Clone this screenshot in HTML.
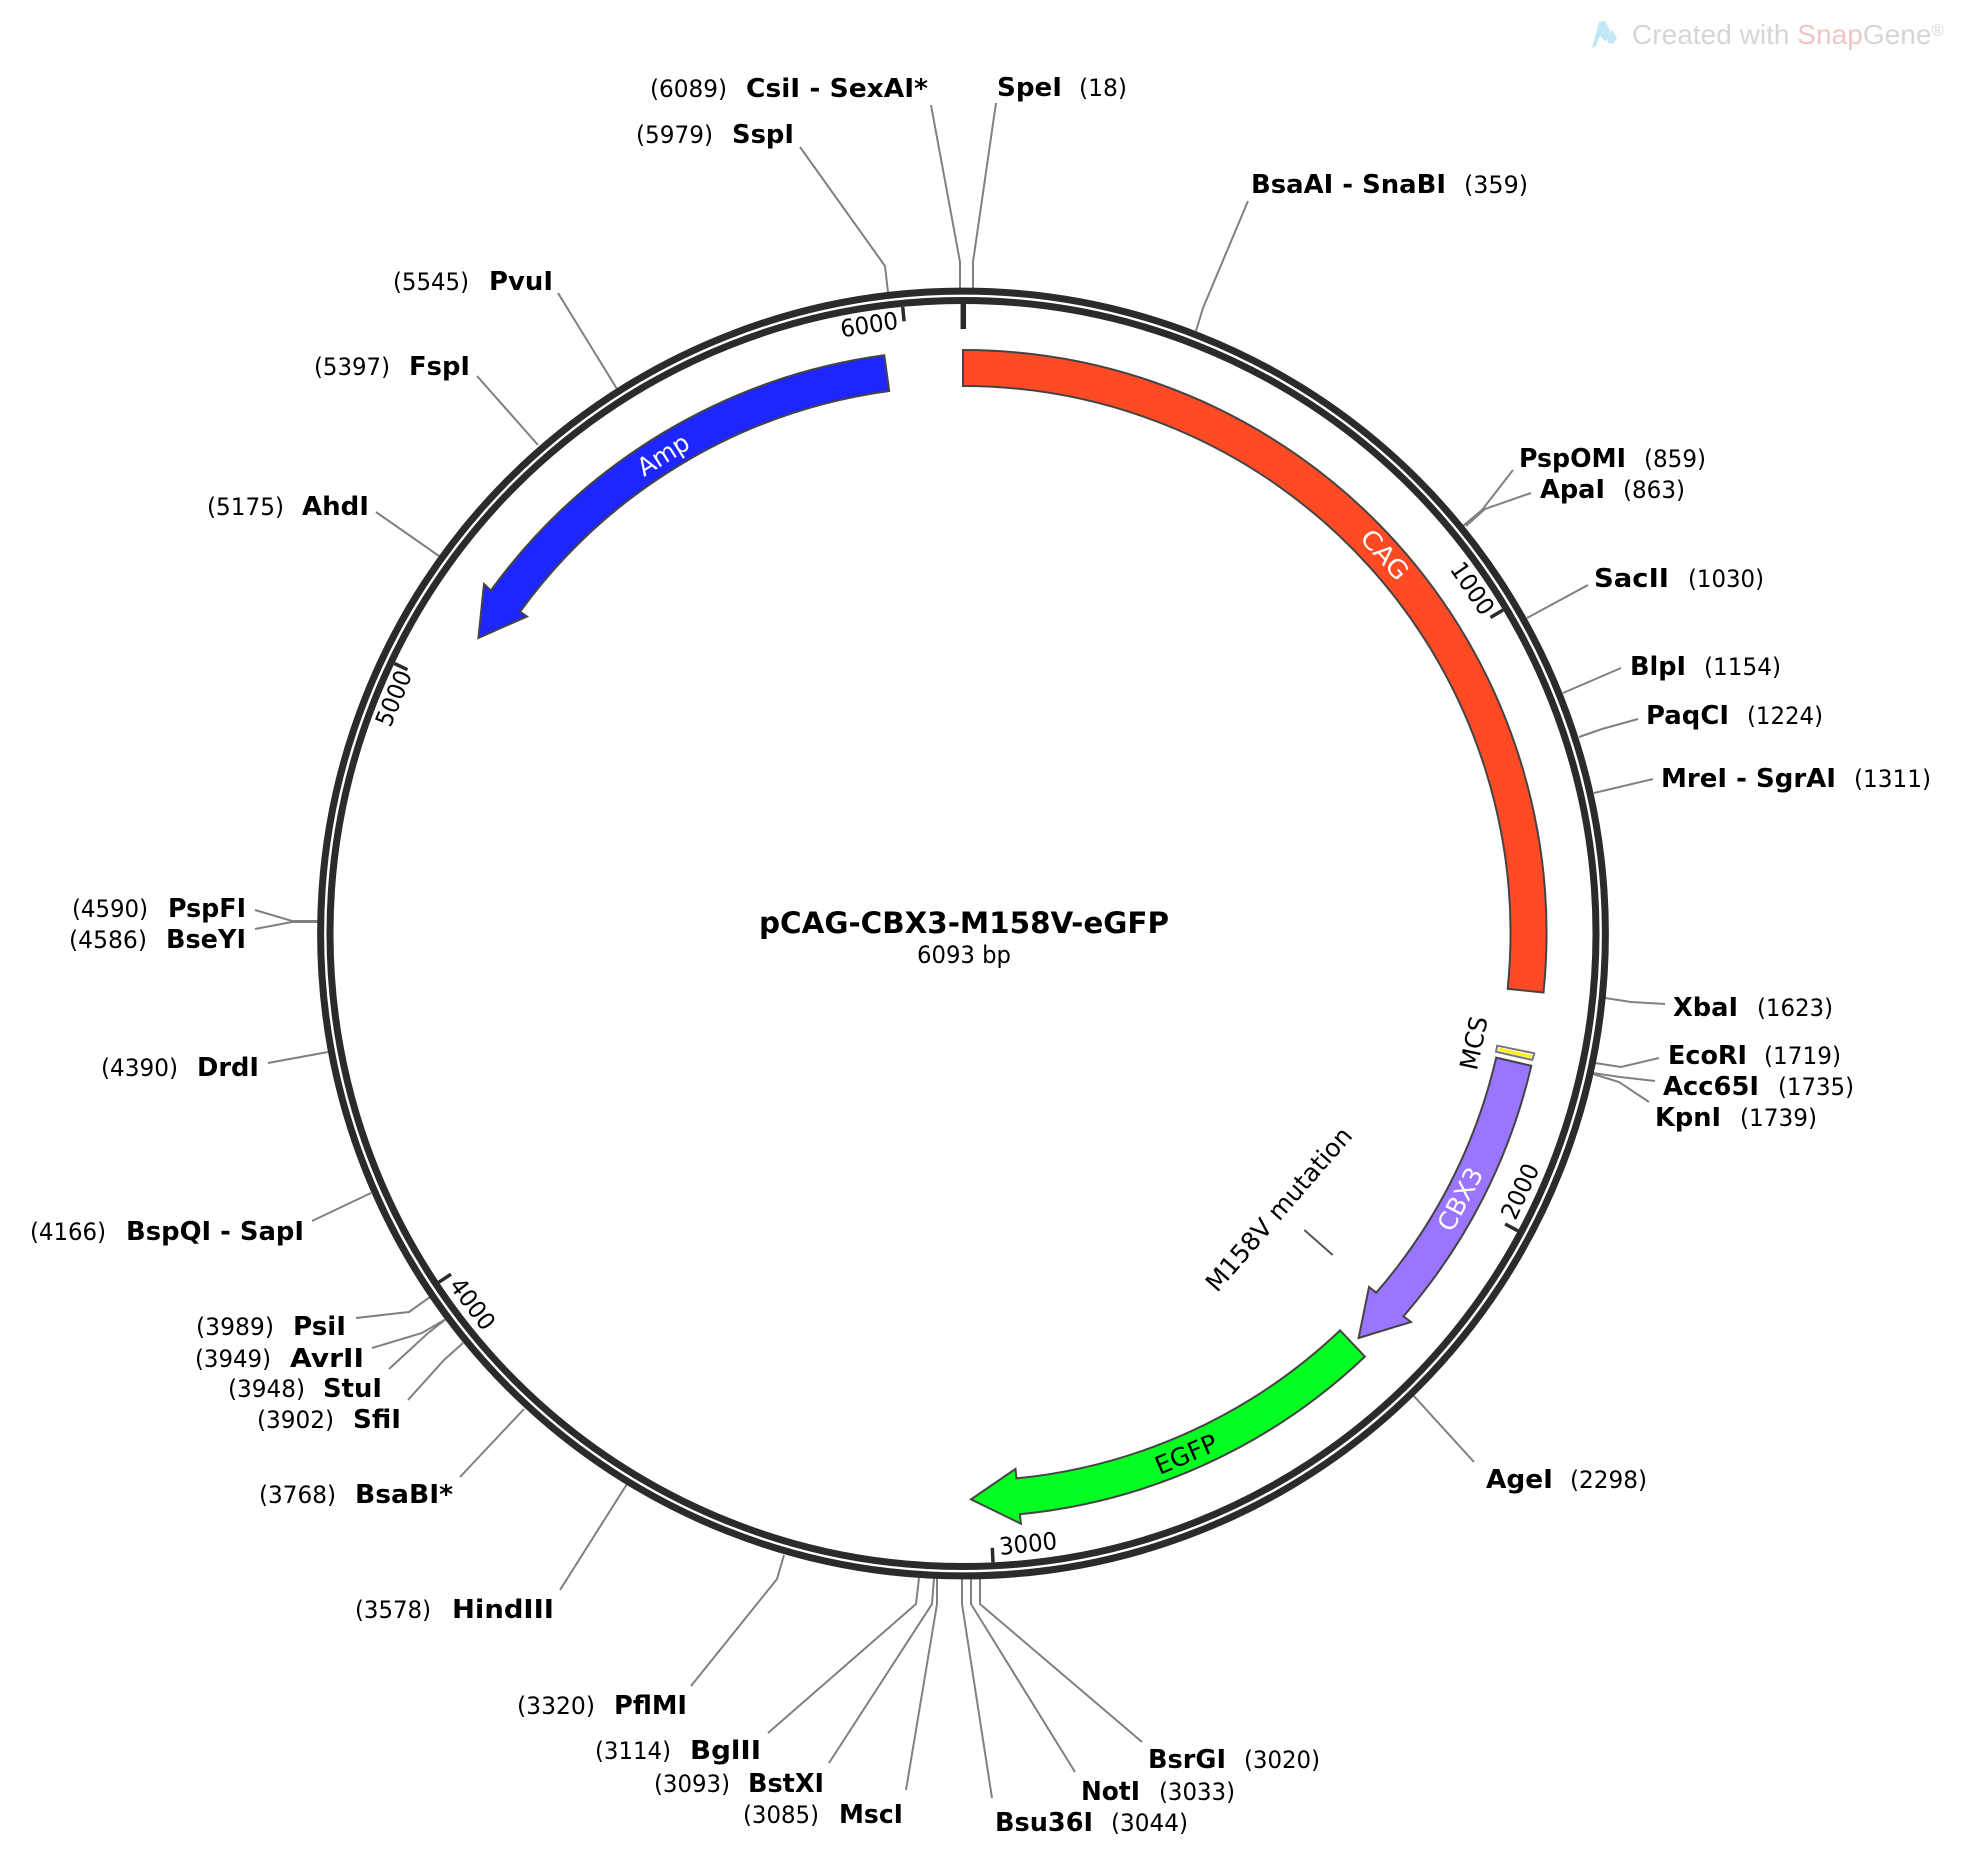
<!DOCTYPE html>
<html>
<head>
<meta charset="utf-8">
<style>
html,body{margin:0;padding:0;background:#fff;width:1964px;height:1860px;overflow:hidden}
svg{display:block}
text{font-family:"DejaVu Sans","Liberation Sans",sans-serif;font-size:24px;fill:#000}
.b{font-weight:bold;font-size:25.5px}
.l{fill:none;stroke:#808080;stroke-width:2}
.f{stroke:#444;stroke-width:2}
</style>
</head>
<body>
<svg width="1964" height="1860" viewBox="0 0 1964 1860" xmlns="http://www.w3.org/2000/svg">
<rect width="1964" height="1860" fill="#fff"/>

<!-- watermark -->
<path d="M1592 48 L1599 22 L1605 21 L1610 30 L1606 42 L1600 36 L1596 46 Z" fill="#c2e8f6"/>
<path d="M1607 36 L1612 30 L1617 38 L1613 44 L1608 43 Z" fill="#c2e8f6"/>
<text x="1632" y="44" style="font-family:'Liberation Sans',sans-serif;font-size:28px" textLength="312" lengthAdjust="spacingAndGlyphs"><tspan style="fill:#d6d6d6;font-size:28px">Created with </tspan><tspan style="fill:#efc6c6;font-size:28px">Snap</tspan><tspan style="fill:#d6d6d6;font-size:28px">Gene</tspan><tspan dy="-8" style="fill:#d6d6d6;font-size:17px">®</tspan></text>

<!-- connector lines -->
<g class="l">
<polyline class="l" points="931,105 960,262 960,290"/>
<polyline class="l" points="996,103 973,262 973,290"/>
<polyline class="l" points="800,147 885,266 888,292"/>
<polyline class="l" points="1248,201 1203,308 1196,331"/>
<polyline class="l" points="1513,470 1482,510 1463,526"/>
<polyline class="l" points="1531,493 1485,509 1466,526"/>
<polyline class="l" points="1588,585 1527,618"/>
<polyline class="l" points="1621,668 1563,693"/>
<polyline class="l" points="1638,719 1602,729 1579,737"/>
<polyline class="l" points="1653,779 1594,793"/>
<polyline class="l" points="1665,1004 1631,1002 1605,998"/>
<polyline class="l" points="1659,1058 1621,1067 1595,1063"/>
<polyline class="l" points="1655,1081 1620,1077 1593,1073"/>
<polyline class="l" points="1649,1102 1619,1082 1593,1074"/>
<polyline class="l" points="1474,1462 1412,1394"/>
<polyline class="l" points="1142,1742 980,1604 980,1579"/>
<polyline class="l" points="1075,1772 971,1604 971,1579"/>
<polyline class="l" points="992,1798 962,1604 962,1579"/>
<polyline class="l" points="906,1790 937,1604 937,1578"/>
<polyline class="l" points="829,1763 932,1604 934,1578"/>
<polyline class="l" points="768,1733 916,1604 919,1578"/>
<polyline class="l" points="691,1686 777,1579 784,1555"/>
<polyline class="l" points="560,1590 627,1484"/>
<polyline class="l" points="460,1477 524,1409"/>
<polyline class="l" points="408,1400 444,1360 463,1343"/>
<polyline class="l" points="389,1369 427,1334 446,1319"/>
<polyline class="l" points="372,1348 422,1333 446,1319"/>
<polyline class="l" points="356,1318 409,1312 430,1297"/>
<polyline class="l" points="312,1221 371,1193"/>
<polyline class="l" points="268,1063 328,1052"/>
<polyline class="l" points="255,929 292,922 318,922"/>
<polyline class="l" points="255,910 292,921 318,921"/>
<polyline class="l" points="376,512 439,556"/>
<polyline class="l" points="477,376 538,445"/>
<polyline class="l" points="558,293 617,389"/>
</g>

<!-- backbone -->
<circle cx="963" cy="933.5" r="642.4" fill="none" stroke="#2b2b2b" stroke-width="7"/>
<circle cx="963" cy="933.5" r="633" fill="none" stroke="#2b2b2b" stroke-width="7"/>

<!-- ticks -->
<g stroke="#2b2b2b" stroke-width="3.5">
<line x1="963.3" y1="303" x2="963.3" y2="329" stroke-width="5.5"/>
<line x1="1503" y1="610" x2="1490.5" y2="617.5"/>
<line x1="1517.9" y1="1230.8" x2="1505.1" y2="1224"/>
<line x1="993" y1="1562.3" x2="992.3" y2="1547.8"/>
<line x1="438.9" y1="1282.2" x2="451" y2="1274.2"/>
<line x1="394.4" y1="663.5" x2="407.5" y2="669.7"/>
<line x1="902.7" y1="306.9" x2="904.1" y2="321.3"/>
</g>

<!-- features -->
<path class="f" fill="#ff4a23" d="M963 350 A583.5 583.5 0 0 1 1543.5 992.5 L1507.7 988.8 A547.5 547.5 0 0 0 963 386 Z"/>
<path class="f" fill="#9a75ff" d="M1531.3 1065.8 A583.5 583.5 0 0 1 1403.4 1316.3 L1411 1322 L1358.6 1338 L1369 1287 L1376.2 1292.7 A547.5 547.5 0 0 0 1496.2 1057.6 Z"/>
<path class="f" fill="#02ff21" d="M1364.9 1356.6 A583.5 583.5 0 0 1 1019.9 1514.2 L1020.9 1523.7 L971 1499.4 L1015.5 1468.9 L1016.4 1478.4 A547.5 547.5 0 0 0 1340.1 1330.4 Z"/>
<path class="f" fill="#1e26ff" d="M884.3 355.3 A583.5 583.5 0 0 0 490.9 590.5 L484 584 L478.4 638 L527 616.5 L520.1 611.7 A547.5 547.5 0 0 1 889.2 391 Z"/>
<polygon points="1497.3,1045.7 1534.3,1053.3 1532.3,1060 1496,1051.7" fill="#fff" stroke="#777" stroke-width="2"/>
<polygon points="1499.5,1047.8 1532,1055.2 1530.8,1058 1498.6,1050.8" fill="#fff200"/>
<line x1="1304.3" y1="1230" x2="1332.7" y2="1255" stroke="#555" stroke-width="2"/>

<!-- rotated feature labels -->
<g text-anchor="middle">
<text transform="translate(1385,554.5) rotate(48.1)" y="9" style="fill:#fff;font-size:25px" textLength="58" lengthAdjust="spacingAndGlyphs">CAG</text>
<text transform="translate(1460,1199) rotate(-61.9)" y="9" style="fill:#fff;font-size:25px" textLength="68" lengthAdjust="spacingAndGlyphs">CBX3</text>
<text transform="translate(663,454.5) rotate(-32)" y="9" style="fill:#fff;font-size:25px" textLength="56" lengthAdjust="spacingAndGlyphs">Amp</text>
<text transform="translate(1186,1454) rotate(-23.2)" y="9" style="font-size:25px" textLength="65" lengthAdjust="spacingAndGlyphs">EGFP</text>
<text transform="translate(1278.5,1209) rotate(-49)" y="9" style="font-size:25px" textLength="208" lengthAdjust="spacingAndGlyphs">M158V mutation</text>
<text transform="translate(1473.5,1043) rotate(-78)" y="9" style="font-size:25px" textLength="54" lengthAdjust="spacingAndGlyphs">MCS</text>
<text transform="translate(1473,588) rotate(55.9)" y="9" textLength="58" lengthAdjust="spacingAndGlyphs">1000</text>
<text transform="translate(1519.5,1191) rotate(-65)" y="9" textLength="58" lengthAdjust="spacingAndGlyphs">2000</text>
<text transform="translate(1028,1543) rotate(-6)" y="9" textLength="58" lengthAdjust="spacingAndGlyphs">3000</text>
<text transform="translate(473,1303.5) rotate(52.9)" y="9" textLength="58" lengthAdjust="spacingAndGlyphs">4000</text>
<text transform="translate(393,698) rotate(-67.6)" y="9" textLength="58" lengthAdjust="spacingAndGlyphs">5000</text>
<text transform="translate(869,324) rotate(-8.8)" y="9" textLength="58" lengthAdjust="spacingAndGlyphs">6000</text>
</g>

<!-- center -->
<text class="b" x="759" y="933" style="font-size:29px" textLength="410" lengthAdjust="spacingAndGlyphs">pCAG-CBX3-M158V-eGFP</text>
<text x="917" y="963" textLength="94" lengthAdjust="spacingAndGlyphs">6093 bp</text>

<!-- enzyme labels -->
<text x="650" y="97" textLength="77" lengthAdjust="spacingAndGlyphs">(6089)</text><text class="b" x="746" y="97" textLength="182" lengthAdjust="spacingAndGlyphs">CsiI - SexAI*</text>
<text class="b" x="997" y="96" textLength="65" lengthAdjust="spacingAndGlyphs">SpeI</text><text x="1079" y="96" textLength="48" lengthAdjust="spacingAndGlyphs">(18)</text>
<text x="636" y="143" textLength="77" lengthAdjust="spacingAndGlyphs">(5979)</text><text class="b" x="732" y="143" textLength="62" lengthAdjust="spacingAndGlyphs">SspI</text>
<text class="b" x="1251" y="193" textLength="195" lengthAdjust="spacingAndGlyphs">BsaAI - SnaBI</text><text x="1464" y="193" textLength="64" lengthAdjust="spacingAndGlyphs">(359)</text>
<text class="b" x="1519" y="467" textLength="107" lengthAdjust="spacingAndGlyphs">PspOMI</text><text x="1644" y="467" textLength="62" lengthAdjust="spacingAndGlyphs">(859)</text>
<text class="b" x="1540" y="498" textLength="65" lengthAdjust="spacingAndGlyphs">ApaI</text><text x="1623" y="498" textLength="62" lengthAdjust="spacingAndGlyphs">(863)</text>
<text class="b" x="1594" y="587" textLength="75" lengthAdjust="spacingAndGlyphs">SacII</text><text x="1688" y="587" textLength="76" lengthAdjust="spacingAndGlyphs">(1030)</text>
<text class="b" x="1630" y="675" textLength="56" lengthAdjust="spacingAndGlyphs">BlpI</text><text x="1704" y="675" textLength="77" lengthAdjust="spacingAndGlyphs">(1154)</text>
<text class="b" x="1646" y="724" textLength="83" lengthAdjust="spacingAndGlyphs">PaqCI</text><text x="1747" y="724" textLength="76" lengthAdjust="spacingAndGlyphs">(1224)</text>
<text class="b" x="1661" y="787" textLength="175" lengthAdjust="spacingAndGlyphs">MreI - SgrAI</text><text x="1854" y="787" textLength="77" lengthAdjust="spacingAndGlyphs">(1311)</text>
<text class="b" x="1673" y="1016" textLength="65" lengthAdjust="spacingAndGlyphs">XbaI</text><text x="1757" y="1016" textLength="76" lengthAdjust="spacingAndGlyphs">(1623)</text>
<text class="b" x="1668" y="1064" textLength="79" lengthAdjust="spacingAndGlyphs">EcoRI</text><text x="1764" y="1064" textLength="77" lengthAdjust="spacingAndGlyphs">(1719)</text>
<text class="b" x="1663" y="1095" textLength="96" lengthAdjust="spacingAndGlyphs">Acc65I</text><text x="1778" y="1095" textLength="76" lengthAdjust="spacingAndGlyphs">(1735)</text>
<text class="b" x="1655" y="1126" textLength="66" lengthAdjust="spacingAndGlyphs">KpnI</text><text x="1740" y="1126" textLength="77" lengthAdjust="spacingAndGlyphs">(1739)</text>
<text class="b" x="1486" y="1488" textLength="67" lengthAdjust="spacingAndGlyphs">AgeI</text><text x="1570" y="1488" textLength="77" lengthAdjust="spacingAndGlyphs">(2298)</text>
<text class="b" x="1148" y="1768" textLength="78" lengthAdjust="spacingAndGlyphs">BsrGI</text><text x="1244" y="1768" textLength="76" lengthAdjust="spacingAndGlyphs">(3020)</text>
<text class="b" x="1081" y="1800" textLength="59" lengthAdjust="spacingAndGlyphs">NotI</text><text x="1159" y="1800" textLength="76" lengthAdjust="spacingAndGlyphs">(3033)</text>
<text class="b" x="995" y="1831" textLength="98" lengthAdjust="spacingAndGlyphs">Bsu36I</text><text x="1111" y="1831" textLength="77" lengthAdjust="spacingAndGlyphs">(3044)</text>
<text x="743" y="1823" textLength="76" lengthAdjust="spacingAndGlyphs">(3085)</text><text class="b" x="839" y="1823" textLength="64" lengthAdjust="spacingAndGlyphs">MscI</text>
<text x="654" y="1792" textLength="76" lengthAdjust="spacingAndGlyphs">(3093)</text><text class="b" x="748" y="1792" textLength="76" lengthAdjust="spacingAndGlyphs">BstXI</text>
<text x="595" y="1759" textLength="76" lengthAdjust="spacingAndGlyphs">(3114)</text><text class="b" x="690" y="1759" textLength="71" lengthAdjust="spacingAndGlyphs">BglII</text>
<text x="517" y="1714" textLength="78" lengthAdjust="spacingAndGlyphs">(3320)</text><text class="b" x="614" y="1714" textLength="73" lengthAdjust="spacingAndGlyphs">PflMI</text>
<text x="355" y="1618" textLength="76" lengthAdjust="spacingAndGlyphs">(3578)</text><text class="b" x="452" y="1618" textLength="102" lengthAdjust="spacingAndGlyphs">HindIII</text>
<text x="259" y="1503" textLength="77" lengthAdjust="spacingAndGlyphs">(3768)</text><text class="b" x="355" y="1503" textLength="98" lengthAdjust="spacingAndGlyphs">BsaBI*</text>
<text x="257" y="1428" textLength="77" lengthAdjust="spacingAndGlyphs">(3902)</text><text class="b" x="353" y="1428" textLength="48" lengthAdjust="spacingAndGlyphs">SfiI</text>
<text x="228" y="1397" textLength="77" lengthAdjust="spacingAndGlyphs">(3948)</text><text class="b" x="323" y="1397" textLength="59" lengthAdjust="spacingAndGlyphs">StuI</text>
<text x="195" y="1367" textLength="76" lengthAdjust="spacingAndGlyphs">(3949)</text><text class="b" x="290" y="1367" textLength="74" lengthAdjust="spacingAndGlyphs">AvrII</text>
<text x="196" y="1335" textLength="78" lengthAdjust="spacingAndGlyphs">(3989)</text><text class="b" x="293" y="1335" textLength="53" lengthAdjust="spacingAndGlyphs">PsiI</text>
<text x="30" y="1240" textLength="76" lengthAdjust="spacingAndGlyphs">(4166)</text><text class="b" x="126" y="1240" textLength="178" lengthAdjust="spacingAndGlyphs">BspQI - SapI</text>
<text x="101" y="1076" textLength="77" lengthAdjust="spacingAndGlyphs">(4390)</text><text class="b" x="197" y="1076" textLength="62" lengthAdjust="spacingAndGlyphs">DrdI</text>
<text x="69" y="948" textLength="78" lengthAdjust="spacingAndGlyphs">(4586)</text><text class="b" x="166" y="948" textLength="80" lengthAdjust="spacingAndGlyphs">BseYI</text>
<text x="72" y="917" textLength="76" lengthAdjust="spacingAndGlyphs">(4590)</text><text class="b" x="168" y="917" textLength="78" lengthAdjust="spacingAndGlyphs">PspFI</text>
<text x="207" y="515" textLength="77" lengthAdjust="spacingAndGlyphs">(5175)</text><text class="b" x="302" y="515" textLength="67" lengthAdjust="spacingAndGlyphs">AhdI</text>
<text x="314" y="375" textLength="76" lengthAdjust="spacingAndGlyphs">(5397)</text><text class="b" x="409" y="375" textLength="61" lengthAdjust="spacingAndGlyphs">FspI</text>
<text x="393" y="290" textLength="76" lengthAdjust="spacingAndGlyphs">(5545)</text><text class="b" x="489" y="290" textLength="64" lengthAdjust="spacingAndGlyphs">PvuI</text>
</svg>
</body>
</html>
